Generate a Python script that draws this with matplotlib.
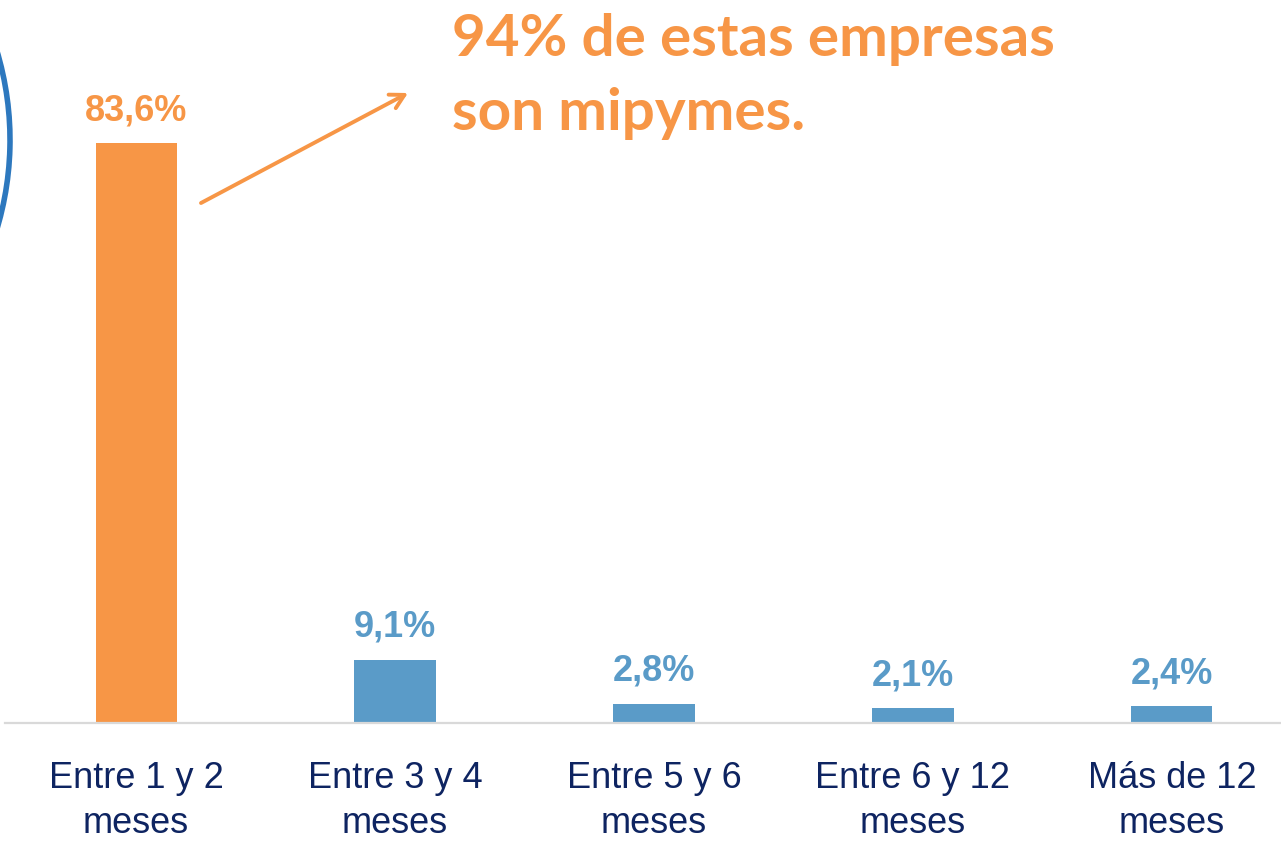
import matplotlib.pyplot as plt
import matplotlib.patches as mpatches
import numpy as np

# datos
categorias = ['Entre 1 y 2\nmeses', 'Entre 3 y 4\nmeses', 'Entre 5 y 6\nmeses',
              'Entre 6 y 12\nmeses', 'Más de 12\nmeses']
valores    = [83.6, 9.1, 2.8, 2.1, 2.4]
etiquetas  = ['83,6%', '9,1%', '2,8%', '2,1%', '2,4%']
titulo     = '94% de estas empresas\nson mipymes.'

naranja = '#F79646'
azul    = '#5A9BC8'
navy    = '#0E2461'
fuente  = ['Liberation Sans', 'DejaVu Sans']

##----- figura
W, H = 1281, 842
fig = plt.figure(figsize=(W/100, H/100), dpi=100)
ax = fig.add_axes([5/W, (H-723)/H, (W-5)/W, 723/H])

x = np.arange(len(valores))
colores = [naranja] + [azul]*(len(valores)-1)
ax.bar(x, valores, width=0.313, color=colores, zorder=2)

for xi, v, t, c in zip(x, valores, etiquetas, colores):
    ax.annotate(t, (xi, v), xytext=(0, 11), textcoords='offset points',
                ha='center', va='bottom', fontsize=26, fontweight='bold',
                color=c, family=fuente)

ax.set_xlim(-0.506, 4.421)
ax.set_ylim(0, 104.3)
ax.set_xticks(x)
ax.set_xticklabels(categorias, fontsize=26, color=navy, family=fuente,
                   linespacing=1.4)
ax.tick_params(axis='x', length=0, pad=27)
ax.set_yticks([])
for s in ['top', 'right', 'left']:
    ax.spines[s].set_visible(False)
ax.spines['bottom'].set_color('#D9D9D9')
ax.spines['bottom'].set_linewidth(1.6)

##----- texto y flecha
fig.text(452/W, 1 - 13/H, titulo, ha='left', va='top', fontsize=42,
         fontweight='bold', color=naranja, family=['Lato', 'DejaVu Sans'],
         linespacing=1.5)

ax.annotate('', xy=(408, H-93), xytext=(201, H-203),
            xycoords='figure pixels', textcoords='figure pixels',
            arrowprops=dict(arrowstyle='->,head_length=1.0,head_width=0.55',
                            color=naranja, lw=2.8, shrinkA=0, shrinkB=0))

##--- arco decorativo a la izquierda
arco = mpatches.Arc((-300, H-140), 620, 620, theta1=-20, theta2=17,
                    transform=None, color='#2D78BE', lw=4)
fig.add_artist(arco)

fig.savefig('out.png', dpi=100)
